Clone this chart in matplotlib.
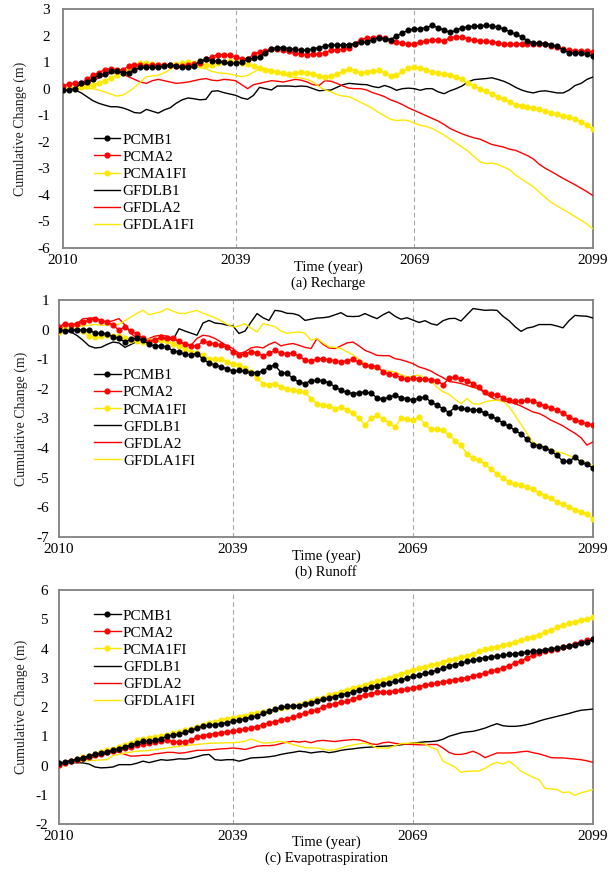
import numpy as np
import matplotlib
matplotlib.use("Agg")
import matplotlib.pyplot as plt

plt.rcParams['font.family'] = ['Liberation Serif', 'DejaVu Serif']
plt.rcParams['axes.unicode_minus'] = False

years = list(range(2010, 2100))
series_names = ['PCMB1', 'PCMA2', 'PCMA1FI', 'GFDLB1', 'GFDLA2', 'GFDLA1FI']

# (a) Recharge
rech_pcmb1 = [-0.05, -0.05, 0.0, 0.2, 0.25, 0.35, 0.5, 0.55, 0.65, 0.65,
              0.6, 0.6, 0.7, 0.8, 0.8, 0.8, 0.8, 0.85, 0.9, 0.85,
              0.8, 0.8, 0.85, 1.05, 1.1, 1.05, 1.05, 1.0, 0.95, 0.95,
              1.0, 1.1, 1.15, 1.2, 1.35, 1.5, 1.55, 1.55, 1.5, 1.48,
              1.45, 1.45, 1.5, 1.55, 1.6, 1.65, 1.65, 1.65, 1.65, 1.7,
              1.75, 1.75, 1.85, 1.9, 1.88, 1.85, 1.98, 2.1, 2.2, 2.25,
              2.25, 2.3, 2.38, 2.3, 2.2, 2.12, 2.2, 2.3, 2.33, 2.35,
              2.37, 2.38, 2.37, 2.32, 2.25, 2.15, 2.05, 1.95, 1.8, 1.72,
              1.72, 1.7, 1.65, 1.6, 1.45, 1.35, 1.35, 1.33, 1.3, 1.22]
rech_pcma2 = [0.1, 0.18, 0.2, 0.2, 0.35, 0.5, 0.6, 0.72, 0.75, 0.72,
              0.7, 0.85, 0.9, 0.88, 0.85, 0.88, 0.9, 0.9, 0.88, 0.85,
              0.85, 0.88, 0.92, 0.95, 1.1, 1.2, 1.28, 1.28, 1.25, 1.2,
              1.12, 1.1, 1.3, 1.38, 1.4, 1.48, 1.5, 1.45, 1.4, 1.35,
              1.3, 1.28, 1.3, 1.3, 1.35, 1.45, 1.45, 1.5, 1.55, 1.7,
              1.85, 1.9, 1.9, 1.95, 1.9, 1.78, 1.75, 1.72, 1.68, 1.68,
              1.75, 1.8, 1.85, 1.83, 1.8, 1.92, 1.95, 1.95, 1.88, 1.82,
              1.8, 1.78, 1.75, 1.72, 1.68, 1.68, 1.68, 1.7, 1.7, 1.7,
              1.7, 1.68, 1.62, 1.58, 1.48, 1.45, 1.42, 1.42, 1.4, 1.38]
rech_pcma1fi = [0.0, 0.0, 0.02, 0.05, 0.1, 0.15, 0.2, 0.3, 0.4, 0.5,
                0.6, 0.7, 0.85, 0.95, 0.95, 0.92, 0.9, 0.9, 0.9, 0.92,
                0.95, 1.0, 0.95, 0.9, 0.88, 0.9, 0.95, 1.0, 1.05, 1.0,
                0.95, 0.92, 0.85, 0.78, 0.7, 0.66, 0.62, 0.58, 0.55, 0.58,
                0.62, 0.6, 0.55, 0.46, 0.45, 0.48, 0.55, 0.65, 0.73, 0.68,
                0.6, 0.62, 0.68, 0.7, 0.6, 0.48, 0.5, 0.65, 0.78, 0.8,
                0.78, 0.7, 0.62, 0.58, 0.55, 0.5, 0.45, 0.35, 0.2, 0.1,
                0.0, -0.1, -0.2, -0.3, -0.4, -0.5, -0.6, -0.65, -0.7, -0.72,
                -0.78, -0.85, -0.9, -0.95, -1.02, -1.08, -1.15, -1.25, -1.38, -1.52]
rech_gfdlb1 = [0.0, 0.0, -0.05, -0.15, -0.3, -0.45, -0.55, -0.62, -0.68, -0.68,
               -0.72, -0.8, -0.9, -0.92, -0.78, -0.85, -0.92, -0.8, -0.72, -0.55,
               -0.42, -0.35, -0.38, -0.42, -0.4, -0.1, -0.08, -0.15, -0.2, -0.25,
               -0.35, -0.4, -0.25, 0.05, 0.0, -0.05, 0.1, 0.1, 0.1, 0.08,
               0.1, 0.08, 0.0, -0.08, -0.06, -0.05, 0.05, 0.15, 0.2, 0.18,
               0.16, 0.15, 0.08, 0.04, 0.12, 0.05, -0.06, 0.0, 0.02, 0.0,
               -0.06, 0.0, 0.0, -0.12, -0.19, -0.08, 0.0, 0.1, 0.25, 0.34,
               0.36, 0.38, 0.41, 0.35, 0.28, 0.18, 0.05, -0.05, -0.12, -0.16,
               -0.1, -0.08, -0.12, -0.16, -0.16, -0.05, 0.12, 0.2, 0.35, 0.44]
rech_gfdla2 = [0.0, 0.0, 0.05, 0.12, 0.2, 0.3, 0.4, 0.5, 0.58, 0.6,
               0.55, 0.45, 0.35, 0.25, 0.2, 0.3, 0.35, 0.3, 0.25, 0.2,
               0.22, 0.25, 0.3, 0.35, 0.38, 0.32, 0.3, 0.35, 0.33, 0.3,
               0.15, 0.0, 0.15, 0.2, 0.25, 0.3, 0.28, 0.25, 0.3, 0.35,
               0.32, 0.25, 0.15, 0.12, 0.3, 0.28, 0.2, 0.1, 0.02, 0.0,
               0.0, -0.05, -0.15, -0.22, -0.3, -0.42, -0.5, -0.6, -0.72, -0.82,
               -0.92, -1.02, -1.12, -1.22, -1.35, -1.5, -1.6, -1.7, -1.78, -1.85,
               -1.9, -2.0, -2.1, -2.15, -2.2, -2.28, -2.32, -2.42, -2.52, -2.65,
               -2.85, -3.0, -3.12, -3.25, -3.38, -3.5, -3.62, -3.75, -3.88, -4.03]
rech_gfdla1fi = [0.0, 0.0, 0.0, 0.0, 0.0, 0.0, -0.05, -0.12, -0.2, -0.28,
                 -0.25, -0.12, 0.05, 0.25, 0.45, 0.48, 0.5, 0.6, 0.72, 0.85,
                 0.9, 0.9, 0.85, 0.8, 0.75, 0.65, 0.6, 0.58, 0.55, 0.5,
                 0.45, 0.5, 0.62, 0.75, 0.75, 0.7, 0.6, 0.55, 0.45, 0.42,
                 0.4, 0.35, 0.25, 0.08, -0.05, -0.12, -0.22, -0.28, -0.3, -0.4,
                 -0.52, -0.62, -0.75, -0.9, -1.02, -1.15, -1.2, -1.18, -1.2, -1.3,
                 -1.38, -1.42, -1.5, -1.62, -1.75, -1.9, -2.05, -2.2, -2.35, -2.55,
                 -2.75, -2.82, -2.8, -2.85, -2.95, -3.05, -3.25, -3.4, -3.55, -3.7,
                 -3.9, -4.1, -4.28, -4.42, -4.55, -4.68, -4.82, -4.95, -5.1, -5.28]

# (b) Runoff
run_pcmb1 = [0.0, -0.05, -0.02, 0.0, -0.02, 0.0, -0.13, -0.12, -0.15, -0.25,
             -0.3, -0.42, -0.32, -0.3, -0.35, -0.5, -0.55, -0.56, -0.58, -0.72,
             -0.75, -0.84, -0.85, -0.81, -1.0, -1.12, -1.2, -1.26, -1.32, -1.4,
             -1.38, -1.4, -1.45, -1.45, -1.4, -1.26, -1.2, -1.45, -1.48, -1.65,
             -1.78, -1.82, -1.72, -1.71, -1.72, -1.8, -1.93, -2.05, -2.12, -2.16,
             -2.14, -2.1, -2.15, -2.3, -2.35, -2.28, -2.22, -2.3, -2.33, -2.38,
             -2.32, -2.27, -2.45, -2.55, -2.67, -2.8, -2.62, -2.66, -2.69, -2.7,
             -2.72, -2.82, -2.92, -3.02, -3.15, -3.27, -3.4, -3.52, -3.7, -3.88,
             -3.92, -3.98, -4.1, -4.24, -4.45, -4.45, -4.3, -4.48, -4.55, -4.67]
run_pcma2 = [0.1, 0.2, 0.17, 0.2, 0.26, 0.32, 0.37, 0.3, 0.26, 0.15,
             -0.02, 0.1, -0.05, -0.15, -0.3, -0.42, -0.35, -0.25, -0.28, -0.3,
             -0.4, -0.5, -0.55, -0.55, -0.4, -0.45, -0.47, -0.53, -0.6, -0.75,
             -0.87, -0.82, -0.75, -0.78, -0.9, -0.8, -0.7, -0.8, -0.81, -0.8,
             -0.9, -1.03, -1.06, -1.0, -0.98, -1.02, -1.05, -1.09, -1.05, -1.0,
             -1.1, -1.2, -1.22, -1.25, -1.42, -1.5, -1.54, -1.62, -1.68, -1.65,
             -1.66, -1.68, -1.7, -1.72, -1.86, -1.65, -1.6, -1.66, -1.72, -1.82,
             -1.95, -2.12, -2.18, -2.2, -2.3, -2.38, -2.42, -2.42, -2.38, -2.4,
             -2.5, -2.58, -2.64, -2.72, -2.83, -2.95, -3.05, -3.12, -3.18, -3.21]
run_pcma1fi = [-0.08, 0.03, 0.03, 0.03, -0.05, -0.2, -0.25, -0.2, -0.18, -0.2,
               -0.2, -0.3, -0.36, -0.4, -0.42, -0.38, -0.36, -0.36, -0.4, -0.47,
               -0.55, -0.65, -0.75, -0.8, -0.87, -1.0, -1.0, -1.0, -1.08, -1.15,
               -1.2, -1.28, -1.43, -1.65, -1.82, -1.86, -1.82, -1.93, -2.0, -2.05,
               -2.08, -2.1, -2.33, -2.5, -2.55, -2.58, -2.67, -2.6, -2.7, -2.83,
               -3.0, -3.21, -3.0, -2.89, -3.02, -3.15, -3.28, -3.0, -3.02, -3.06,
               -2.95, -3.2, -3.36, -3.36, -3.4, -3.56, -3.75, -3.9, -4.2, -4.35,
               -4.41, -4.55, -4.7, -4.88, -5.02, -5.14, -5.2, -5.25, -5.32, -5.39,
               -5.5, -5.6, -5.7, -5.82, -5.9, -5.98, -6.08, -6.15, -6.22, -6.38]
run_gfdlb1 = [0.0, -0.03, -0.08, -0.2, -0.36, -0.55, -0.62, -0.6, -0.5, -0.42,
              -0.45, -0.6, -0.5, -0.4, -0.36, -0.35, -0.33, -0.32, -0.3, -0.35,
              0.03, -0.05, -0.12, -0.19, 0.22, 0.31, 0.22, 0.2, 0.15, 0.12,
              -0.13, -0.05, 0.25, 0.54, 0.4, 0.31, 0.65, 0.62, 0.55, 0.54,
              0.48, 0.31, 0.35, 0.39, 0.4, 0.43, 0.5, 0.57, 0.45, 0.44,
              0.45, 0.54, 0.45, 0.37, 0.5, 0.6, 0.45, 0.35, 0.4, 0.32,
              0.24, 0.3, 0.2, 0.15, 0.3, 0.37, 0.38, 0.29, 0.5, 0.71,
              0.68, 0.65, 0.66, 0.65, 0.45, 0.3, 0.1, -0.06, 0.05, 0.09,
              0.17, 0.17, 0.17, 0.12, 0.06, 0.3, 0.48, 0.46, 0.45, 0.39]
run_gfdla2 = [0.0, 0.15, 0.15, 0.2, 0.37, 0.38, 0.4, 0.3, 0.25, 0.3,
              0.37, 0.15, -0.13, -0.3, -0.42, -0.3, -0.22, -0.19, -0.22, -0.3,
              -0.4, -0.5, -0.53, -0.3, -0.19, -0.22, -0.3, -0.42, -0.55, -0.64,
              -0.81, -0.75, -0.62, -0.58, -0.62, -0.5, -0.42, -0.55, -0.5, -0.47,
              -0.53, -0.6, -0.64, -0.3, -0.5, -0.62, -0.64, -0.55, -0.45, -0.42,
              -0.55, -0.7, -0.78, -0.87, -0.88, -0.88, -0.98, -1.02, -1.08, -1.15,
              -1.26, -1.32, -1.4, -1.52, -1.62, -1.75, -1.78, -1.82, -1.88, -1.95,
              -1.99, -2.15, -2.28, -2.38, -2.4, -2.44, -2.5, -2.58, -2.68, -2.78,
              -2.83, -2.93, -3.06, -3.15, -3.25, -3.38, -3.5, -3.65, -3.9, -3.79]
run_gfdla1fi = [0.0, 0.15, 0.12, 0.1, 0.12, 0.15, 0.17, 0.15, 0.15, 0.17,
                0.18, 0.3, 0.43, 0.55, 0.65, 0.5, 0.55, 0.6, 0.71, 0.62,
                0.55, 0.54, 0.6, 0.65, 0.55, 0.48, 0.4, 0.3, 0.18, 0.09,
                0.12, 0.2, 0.05, -0.08, 0.2, 0.15, 0.1, -0.05, -0.13, -0.1,
                -0.08, -0.12, -0.36, -0.3, -0.45, -0.58, -0.6, -0.64, -0.75, -0.85,
                -1.0, -1.15, -1.3, -1.33, -1.37, -1.4, -1.43, -1.52, -1.6, -1.57,
                -1.54, -1.62, -1.71, -1.95, -2.1, -2.18, -2.35, -2.5, -2.33, -2.5,
                -2.52, -2.44, -2.4, -2.38, -2.42, -2.6, -2.89, -3.2, -3.5, -3.8,
                -3.9, -3.96, -4.05, -4.13, -4.17, -4.25, -4.35, -4.42, -4.5, -4.58]

# (c) Evapotraspiration
et_pcmb1 = [0.07, 0.12, 0.17, 0.22, 0.26, 0.32, 0.38, 0.42, 0.47, 0.52,
            0.58, 0.63, 0.7, 0.76, 0.83, 0.83, 0.86, 0.92, 1.0, 1.03,
            1.08, 1.13, 1.2, 1.28, 1.34, 1.37, 1.4, 1.43, 1.47, 1.51,
            1.55, 1.6, 1.65, 1.7, 1.78, 1.85, 1.92, 1.99, 2.02, 2.05,
            2.05, 2.1, 2.15, 2.2, 2.26, 2.3, 2.36, 2.42, 2.46, 2.52,
            2.58, 2.63, 2.68, 2.73, 2.78, 2.83, 2.88, 2.93, 2.99, 3.05,
            3.1, 3.15, 3.2, 3.26, 3.32, 3.4, 3.45, 3.5, 3.56, 3.6,
            3.65, 3.68, 3.72, 3.74, 3.77, 3.8, 3.82, 3.85, 3.88, 3.9,
            3.93, 3.96, 3.99, 4.02, 4.05, 4.08, 4.13, 4.18, 4.24, 4.32]
et_pcma2 = [0.03, 0.1, 0.15, 0.2, 0.25, 0.3, 0.36, 0.4, 0.46, 0.5,
            0.55, 0.6, 0.65, 0.7, 0.74, 0.77, 0.8, 0.84, 0.86, 0.82,
            0.8, 0.82, 0.86, 0.98, 1.02, 1.06, 1.09, 1.12, 1.15, 1.17,
            1.2, 1.24, 1.28, 1.33, 1.4, 1.45, 1.5, 1.56, 1.6, 1.65,
            1.72, 1.78, 1.85, 1.91, 2.0, 2.06, 2.12, 2.16, 2.2, 2.28,
            2.35, 2.42, 2.46, 2.5, 2.51, 2.52, 2.55, 2.58, 2.62, 2.65,
            2.7, 2.74, 2.78, 2.82, 2.86, 2.9, 2.93, 2.96, 3.01, 3.06,
            3.11, 3.16, 3.22, 3.28, 3.33, 3.42, 3.5, 3.58, 3.68, 3.78,
            3.85, 3.9, 3.95, 4.0, 4.05, 4.1, 4.17, 4.23, 4.28, 4.32]
et_pcma1fi = [0.03, 0.1, 0.16, 0.22, 0.28, 0.34, 0.4, 0.46, 0.52, 0.58,
              0.64, 0.7, 0.78, 0.86, 0.9, 0.94, 0.98, 1.02, 1.06, 1.1,
              1.15, 1.2, 1.25, 1.32, 1.38, 1.44, 1.5, 1.55, 1.6, 1.63,
              1.67, 1.71, 1.75, 1.8, 1.84, 1.88, 1.92, 1.96, 2.0, 2.04,
              2.08, 2.14, 2.2, 2.26, 2.32, 2.4, 2.46, 2.52, 2.58, 2.64,
              2.7, 2.76, 2.82, 2.88, 2.93, 2.98, 3.05, 3.12, 3.2, 3.28,
              3.33, 3.38, 3.43, 3.48, 3.54, 3.6, 3.65, 3.7, 3.75, 3.82,
              3.9, 3.97, 4.02, 4.06, 4.12, 4.17, 4.22, 4.28, 4.35, 4.41,
              4.48, 4.56, 4.64, 4.72, 4.8, 4.86, 4.92, 4.96, 5.0, 5.07]
et_gfdlb1 = [0.03, 0.06, 0.09, 0.1, 0.09, 0.05, -0.05, -0.08, -0.07, -0.05,
             0.03, 0.03, 0.03, 0.08, 0.15, 0.1, 0.15, 0.2, 0.18, 0.2,
             0.23, 0.22, 0.25, 0.3, 0.36, 0.38, 0.2, 0.18, 0.2, 0.2,
             0.15, 0.2, 0.26, 0.27, 0.28, 0.3, 0.33, 0.38, 0.42, 0.45,
             0.49, 0.47, 0.43, 0.46, 0.48, 0.44, 0.47, 0.52, 0.55, 0.57,
             0.6, 0.62, 0.63, 0.65, 0.66, 0.67, 0.68, 0.71, 0.74, 0.77,
             0.79, 0.81, 0.82, 0.84, 0.9, 1.0, 1.06, 1.12, 1.15, 1.17,
             1.22, 1.28, 1.36, 1.43, 1.36, 1.34, 1.34, 1.36, 1.4, 1.45,
             1.52, 1.58, 1.63, 1.68, 1.73, 1.78, 1.84, 1.89, 1.91, 1.93]
et_gfdla2 = [0.03, 0.07, 0.12, 0.16, 0.2, 0.25, 0.3, 0.35, 0.42, 0.49,
             0.45, 0.38, 0.32, 0.33, 0.35, 0.35, 0.4, 0.42, 0.45, 0.45,
             0.42, 0.44, 0.48, 0.52, 0.52, 0.53, 0.55, 0.57, 0.58, 0.6,
             0.58, 0.55, 0.6, 0.66, 0.68, 0.68, 0.7, 0.75, 0.8, 0.83,
             0.8, 0.83, 0.78, 0.84, 0.86, 0.84, 0.82, 0.85, 0.87, 0.89,
             0.88, 0.82, 0.74, 0.72, 0.78, 0.8, 0.76, 0.74, 0.73, 0.72,
             0.71, 0.71, 0.72, 0.72, 0.6, 0.45, 0.38, 0.38, 0.42, 0.49,
             0.4, 0.27, 0.35, 0.43, 0.43, 0.43, 0.44, 0.47, 0.49, 0.44,
             0.4, 0.34, 0.27, 0.26, 0.26, 0.24, 0.22, 0.2, 0.16, 0.11]
et_gfdla1fi = [0.03, 0.06, 0.09, 0.12, 0.15, 0.17, 0.18, 0.19, 0.2, 0.34,
               0.38, 0.43, 0.46, 0.49, 0.5, 0.52, 0.54, 0.57, 0.6, 0.63,
               0.66, 0.68, 0.7, 0.72, 0.74, 0.76, 0.77, 0.77, 0.78, 0.78,
               0.8, 0.83, 0.91, 0.84, 0.77, 0.78, 0.8, 0.83, 0.78, 0.72,
               0.66, 0.62, 0.6, 0.6, 0.56, 0.52, 0.54, 0.6, 0.66, 0.7,
               0.74, 0.77, 0.7, 0.6, 0.6, 0.6, 0.68, 0.75, 0.76, 0.77,
               0.76, 0.74, 0.62, 0.55, 0.15, 0.05, -0.05, -0.23, -0.2, -0.19,
               -0.19, -0.1, 0.03, 0.11, 0.05, 0.15, 0.0, -0.19, -0.3, -0.4,
               -0.48, -0.78, -0.8, -0.82, -0.93, -0.9, -1.02, -0.93, -0.88, -0.82]

panels = [
    ([rech_pcmb1, rech_pcma2, rech_pcma1fi, rech_gfdlb1, rech_gfdla2, rech_gfdla1fi],
     (-6, 3), '(a) Recharge'),
    ([run_pcmb1, run_pcma2, run_pcma1fi, run_gfdlb1, run_gfdla2, run_gfdla1fi],
     (-7, 1), '(b) Runoff'),
    ([et_pcmb1, et_pcma2, et_pcma1fi, et_gfdlb1, et_gfdla2, et_gfdla1fi],
     (-2, 6), '(c) Evapotraspiration'),
]

colors = ['#000000', '#FF0000', '#FFE800', '#000000', '#FF0000', '#FFE800']
xticks = [2010, 2039, 2069, 2099]

# axes boxes in figure fraction: left, bottom, width, height
boxes = [[0.1026, 0.7159, 0.8632, 0.2738],
         [0.0961, 0.3849, 0.8697, 0.2715],
         [0.0961, 0.0561, 0.8697, 0.2680]]
legend_anchor = [(0.058, 0.481), (0.0655, 0.71), (0.0655, 0.919)]
ylab_x = [-0.081, -0.071, -0.071]
ytick_pad = [9.4, 7.0, 8.0]

fig = plt.figure(figsize=(6.14, 8.73), dpi=100)

for i, (data, ylim, caption) in enumerate(panels):
    ax = fig.add_axes(boxes[i])
    for k, (name, vals) in enumerate(zip(series_names, data)):
        if k < 3:
            ax.plot(years, vals, color=colors[k], lw=1.0, marker='o', ms=3.4,
                    mec=colors[k], label=name, zorder=6 - k)
        else:
            ax.plot(years, vals, color=colors[k], lw=1.0, label=name, zorder=3)
    for xv in [2039, 2069]:
        ax.axvline(xv, color='#A6A6A6', lw=0.8, ls=(0, (4, 3)), zorder=1)

    ax.set_xlim(2010, 2099)
    ax.set_ylim(*ylim)
    ax.set_xticks(xticks)
    ax.set_yticks(np.arange(ylim[0], ylim[1] + 1, 1))
    ax.tick_params(axis='x', length=0, pad=4, labelsize=11)
    ax.tick_params(axis='y', length=0, pad=ytick_pad[i], labelsize=11)
    for s in ax.spines.values():
        s.set_color('#808080')
        s.set_linewidth(1.3)

    ax.set_ylabel('Cumulative Change (m)', fontsize=10, color='#222222')
    ax.yaxis.set_label_coords(ylab_x[i], 0.5)
    ax.yaxis.label.set_verticalalignment('center')

    ax.text(0.5, -0.08, 'Time (year)', transform=ax.transAxes,
            ha='center', va='center', fontsize=10.5)
    ax.text(0.5, -0.148, caption, transform=ax.transAxes,
            ha='center', va='center', fontsize=10.5)

    ax.legend(loc='upper left', bbox_to_anchor=legend_anchor[i], frameon=False,
              borderpad=0, borderaxespad=0, handlelength=1.75, handletextpad=0.15,
              labelspacing=0.22, fontsize=11)

fig.savefig('out.png', dpi=100)
